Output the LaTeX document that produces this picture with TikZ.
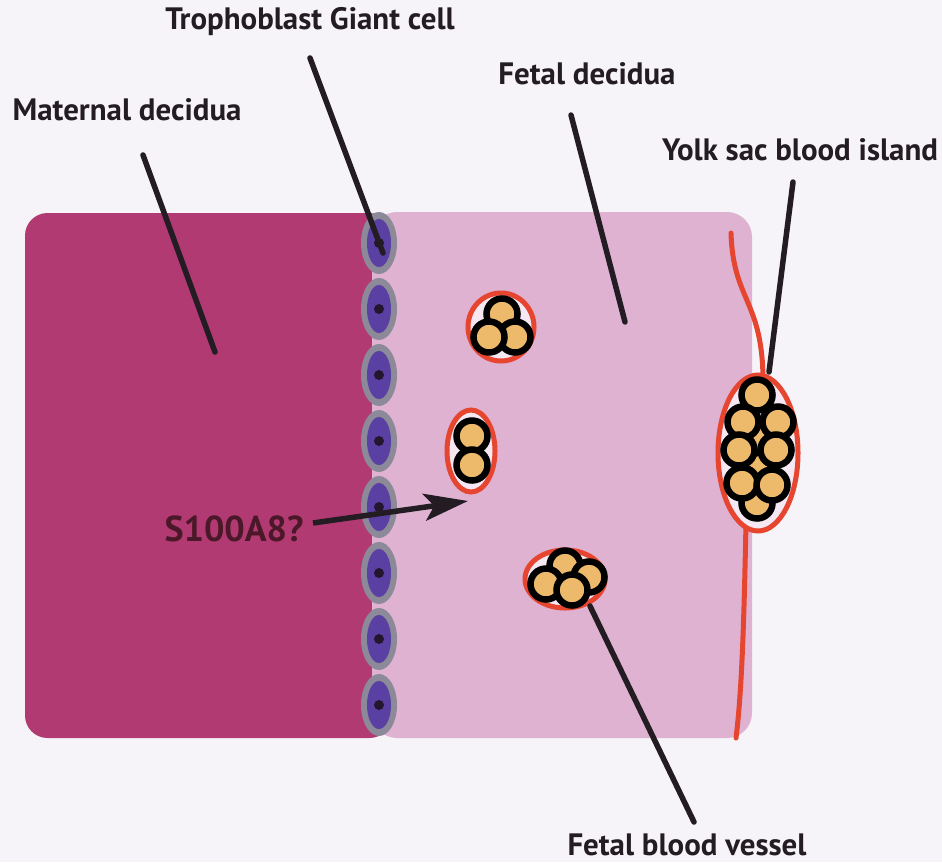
\documentclass[tikz,border=0pt]{standalone}
\usepackage{fontspec}
\setmainfont{PT Sans}
\usetikzlibrary{arrows.meta}

\definecolor{paper}{HTML}{F6F4F8}
\definecolor{maternal}{HTML}{B13A72}
\definecolor{fetal}{HTML}{DFB2D2}
\definecolor{tgcring}{HTML}{8C8A98}
\definecolor{tgccore}{HTML}{5A40A2}
\definecolor{tgcdot}{HTML}{24162E}
\definecolor{vessel}{HTML}{E6452F}
\definecolor{rbc}{HTML}{EDBA6C}
\definecolor{inkdark}{HTML}{231C22}
\definecolor{inkmaroon}{HTML}{4A1828}

% one blood cell: black ring with a golden core
\newcommand{\bloodcell}[2]{\filldraw [cell_style] (#1,#2) circle [radius=15.5];}

\begin{document}
\begin{tikzpicture}[x=0.02cm, y=-0.02cm,
        label_style/.style={font=\bfseries\fontsize{17.6}{21}\selectfont, text=inkdark, inner sep=0pt},
        big_label_style/.style={font=\bfseries\fontsize{20.5}{24}\selectfont, text=inkmaroon, inner sep=0pt},
        leader_style/.style={draw=inkdark, line width=0.11cm, line cap=round},
        cell_style/.style={draw=black, fill=rbc, line width=0.13cm},
        vessel_style/.style={draw=vessel, fill=white!70!fetal, line width=0.1cm},
        membrane_style/.style={draw=vessel, line width=0.1cm, line cap=round}]

        \useasboundingbox (0,0) rectangle (942,862);
        \fill [paper] (0,0) rectangle (942,862);

        % decidua blocks
        \fill [maternal, rounded corners=0.45cm] (25,213) rectangle (392,738);
        \fill [fetal, rounded corners=0.5cm] (372,212) rectangle (752,738);

        % trophoblast giant cells along the border
        \foreach \y in {243,309,375,441,507,573,639,705} {
            \fill [tgcring] (379,\y) ellipse [x radius=18, y radius=31];
            \fill [tgccore] (379,\y) ellipse [x radius=12, y radius=24];
            \fill [tgcdot] (379,\y) circle [radius=5];
        }

        % membrane beside the yolk sac
        \draw [membrane_style] (731,233) .. controls (733,300) and (762,300) .. (763,378);
        \draw [membrane_style] (746,522) .. controls (744,620) and (742,690) .. (736,738);

        % fetal blood vessels
        \filldraw [vessel_style] (501,327) ellipse [x radius=33, y radius=34];
        \bloodcell{502}{314}
        \bloodcell{515}{337}
        \bloodcell{489}{337}

        \filldraw [vessel_style] (471,451) ellipse [x radius=24, y radius=41];
        \bloodcell{472}{436}
        \bloodcell{472}{465}

        \filldraw [vessel_style] (565,579) ellipse [x radius=40, y radius=29];
        \bloodcell{565}{566}
        \bloodcell{589}{577}
        \bloodcell{546}{584}
        \bloodcell{572}{590}

        % yolk sac blood island
        \filldraw [vessel_style] (758,453) ellipse [x radius=40, y radius=78];
        \bloodcell{760}{440}
        \bloodcell{761}{468}
        \bloodcell{757}{395}
        \bloodcell{743}{422}
        \bloodcell{778}{422}
        \bloodcell{739}{450}
        \bloodcell{776}{450}
        \bloodcell{757}{503}
        \bloodcell{742}{483}
        \bloodcell{772}{485}

        % labels
        \node [label_style](tgc) at (310,22) {Trophoblast Giant cell};
        \node [label_style](mat) at (127,110) {Maternal decidua};
        \node [label_style](fet) at (587,74) {Fetal decidua};
        \node [label_style](yolk) at (800,150) {Yolk sac blood island};
        \node [big_label_style](s100) at (234,529) {S100A8?};
        \node [label_style](ves) at (687,845) {Fetal blood vessel};

        % leader line ends
        \coordinate (tgc_top) at (310,58);
        \coordinate (tgc_end) at (383,253);
        \coordinate (mat_top) at (143,155);
        \coordinate (mat_end) at (215,352);
        \coordinate (fet_top) at (571,115);
        \coordinate (fet_end) at (625,322);
        \coordinate (yolk_top) at (793,182);
        \coordinate (yolk_end) at (769,372);
        \coordinate (ves_top) at (590,606);
        \coordinate (ves_end) at (694,822);
        \coordinate (s100_tail) at (313,523);
        \coordinate (s100_tip) at (468,501);

        \draw [leader_style] (tgc_top) -- (tgc_end);
        \draw [leader_style] (mat_top) -- (mat_end);
        \draw [leader_style] (fet_top) -- (fet_end);
        \draw [leader_style] (yolk_top) -- (yolk_end);
        \draw [leader_style] (ves_top) -- (ves_end);
        \draw [leader_style, line cap=butt, -{Stealth[length=0.88cm, width=0.54cm, inset=0.2cm]}] (s100_tail) -- (s100_tip);
\end{tikzpicture}
\end{document}
